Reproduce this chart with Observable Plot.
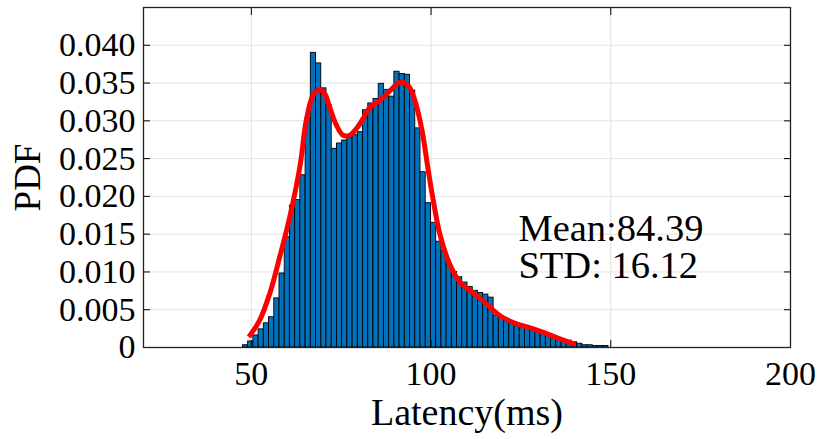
<!DOCTYPE html>
<html><head><meta charset="utf-8">
<script src="https://cdn.jsdelivr.net/npm/d3@7"></script>
<script src="https://cdn.jsdelivr.net/npm/@observablehq/plot@0.6"></script>
<style>
body{margin:0;background:#fff;}
#chart svg{display:block;}
</style></head><body><div id="chart"></div>
<script>
// Histogram bins (latency, ms) and their PDF heights
const binStart = 47.66;
const binWidth = 1.453;
const density = [
  0.0003, 0.0008, 0.0016, 0.0024, 0.0032, 0.0040, 0.0065, 0.0098, 0.0146, 0.0188,
  0.0195, 0.0228, 0.0304, 0.0390, 0.0376, 0.0343, 0.0321, 0.0263, 0.0270, 0.0274,
  0.0277, 0.0281, 0.0285, 0.0314, 0.0323, 0.0329, 0.0349, 0.0341, 0.0332, 0.0365,
  0.0362, 0.0361, 0.0340, 0.0290, 0.0232, 0.0191, 0.0165, 0.0140, 0.0128, 0.0110,
  0.0100, 0.0093, 0.0086, 0.0080, 0.0075, 0.0072, 0.0070, 0.0066, 0.0042, 0.0040,
  0.0038, 0.0032, 0.0030, 0.0028, 0.0026, 0.0023, 0.0021, 0.0019, 0.0016, 0.0014,
  0.0012, 0.0010, 0.0009, 0.0007, 0.0005, 0.0003, 0.0003, 0.0002, 0.0002, 0.0002
];
// Fitted density curve (red)
const curveX = [49.3, 52.3, 55.1, 57.9, 60.7, 63.5, 65.3, 67.2, 68.9, 70.4, 71.8, 73.7, 75.5, 77.4,
  79.3, 81.1, 83.0, 85.8, 88.6, 91.4, 93.6, 95.5, 97.5, 99.2, 100.6, 102.5, 105.3, 108.1,
  110.9, 113.7, 116.5, 119.2, 123.4, 127.6, 131.8, 136.0, 140.2];
const curveY = [0.0014, 0.0036, 0.0071, 0.0120, 0.0173, 0.0239, 0.0301, 0.0334, 0.0341, 0.0336,
  0.0318, 0.0294, 0.0281, 0.0281, 0.0290, 0.0303, 0.0318, 0.0327, 0.0340, 0.0351, 0.0347,
  0.0327, 0.0287, 0.0235, 0.0195, 0.0149, 0.0109, 0.0086, 0.0075, 0.0065, 0.0053, 0.0042,
  0.0032, 0.0026, 0.0019, 0.0011, 0.0004];
const xTicks = [50, 100, 150, 200];
const yTicks = [0, 0.005, 0.010, 0.015, 0.020, 0.025, 0.030, 0.035, 0.040];
const yTickLabels = ["0", "0.005", "0.010", "0.015", "0.020", "0.025", "0.030", "0.035", "0.040"];
const statLabels = ["Mean:84.39", "STD: 16.12"];
const statX = [124.3, 124.3];
const statY = [0.01406, 0.00917];

const bins = density.map((d, i) => ({x1: binStart + i * binWidth, x2: binStart + (i + 1) * binWidth, y: d}));
const curve = curveX.map((x, i) => ({x, y: curveY[i]}));
const stats = statLabels.map((t, i) => ({text: t, x: statX[i], y: statY[i]}));

const font = "'Liberation Serif', 'Times New Roman', serif";
const chart = Plot.plot({
  width: 823, height: 439,
  marginLeft: 143, marginRight: 33, marginTop: 7, marginBottom: 92,
  x: {domain: [20, 200]},
  y: {domain: [0, 0.045]},
  style: {fontFamily: font, fontSize: "34px", color: "#000", background: "#fff"},
  marks: [
    Plot.gridX(xTicks, {stroke: "#e2e2e2", strokeOpacity: 1, strokeWidth: 1}),
    Plot.gridY(yTicks, {stroke: "#e2e2e2", strokeOpacity: 1, strokeWidth: 1}),
    Plot.rectY(bins, {x1: "x1", x2: "x2", y: "y", fill: "#0072BD", stroke: "#000", strokeWidth: 0.9}),
    Plot.line(curve, {x: "x", y: "y", stroke: "#ff0000", strokeWidth: 5, curve: "catmull-rom", strokeLinecap: "butt"}),
    Plot.text(stats, {x: "x", y: "y", text: "text", textAnchor: "start", lineAnchor: "bottom", fontSize: 38.5, fill: "#000"}),
    Plot.axisX(xTicks, {anchor: "bottom", tickSize: -7, tickPadding: 20, fontSize: 34, label: null}),
    Plot.axisX(xTicks, {anchor: "top", tickSize: -7, tickFormat: () => "", label: null}),
    Plot.axisY(yTicks, {anchor: "left", tickSize: -7, tickPadding: 15, fontSize: 34, tickFormat: (d, i) => yTickLabels[i], label: null}),
    Plot.axisY(yTicks, {anchor: "right", tickSize: -7, tickFormat: () => "", label: null}),
    Plot.frame({stroke: "#222", strokeWidth: 1.3}),
    Plot.text(["PDF"], {frameAnchor: "left", dx: -115, rotate: -90, fontSize: 37, textAnchor: "middle", lineAnchor: "middle"}),
    Plot.text(["Latency(ms)"], {frameAnchor: "bottom", dy: 65, fontSize: 38, textAnchor: "middle", lineAnchor: "middle"})
  ]
});
document.getElementById("chart").appendChild(chart);
</script></body></html>
